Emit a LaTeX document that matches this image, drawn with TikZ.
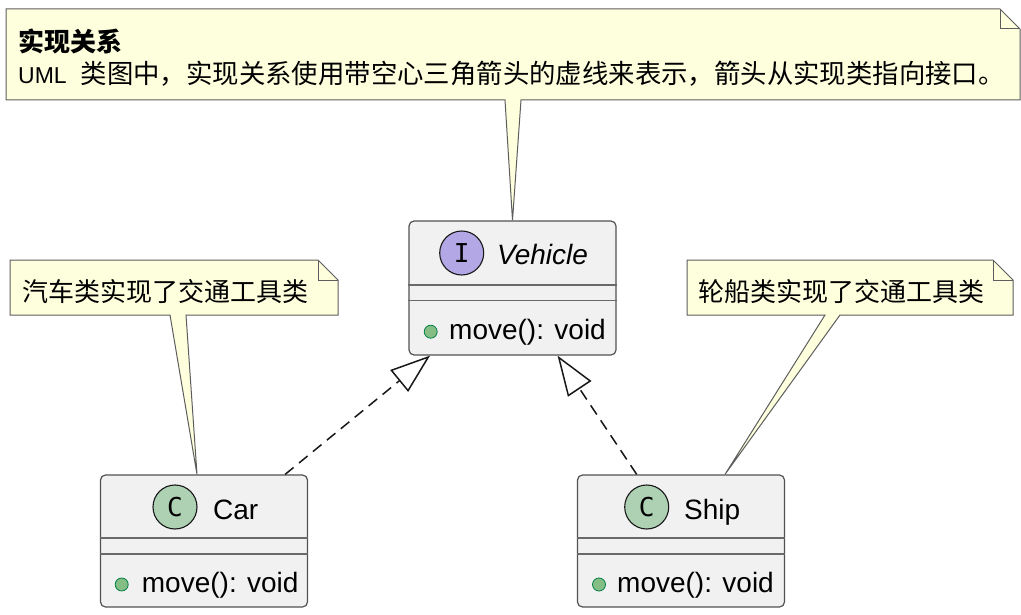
\documentclass[tikz,border=0pt]{standalone}
\usepackage{fontspec}
\setmainfont{Liberation Sans}
\newfontfamily\cjk{Noto Sans CJK SC}
\newfontfamily\monofnt{DejaVu Sans Mono}
\usetikzlibrary{arrows.meta,calc}
\definecolor{notefill}{HTML}{FEFFDD}
\definecolor{classfill}{HTML}{F1F1F1}
\definecolor{ifacefill}{HTML}{B4A7E5}
\definecolor{clsfill}{HTML}{ADD1B2}
\definecolor{dotfill}{HTML}{84BE84}
\definecolor{dotdraw}{HTML}{038048}
\definecolor{edge}{HTML}{181818}
\tikzset{
  classbox/.style={draw=edge!75, fill=classfill, rounded corners=5pt, line width=1.2pt,
    minimum width=207pt, inner sep=0pt},
  notebody/.style={draw=edge!70, fill=notefill, line width=1pt, line join=miter},
  sepline/.style={draw=edge!65, line width=1.2pt},
  spot/.style={circle, draw=edge, line width=1.1pt, minimum size=44pt, inner sep=0pt,
    font=\monofnt\fontsize{26}{26}\selectfont},
  pub/.style={circle, draw=dotdraw, fill=dotfill, minimum size=13pt, inner sep=0pt, line width=0.8pt},
  lbl/.style={inner sep=0pt, anchor=base west, font=\fontsize{28}{32}\selectfont},
  notetext/.style={inner sep=0pt, anchor=west, font=\cjk\fontsize{26}{30}\selectfont},
  realize/.style={draw=edge, line width=1.5pt, dash pattern=on 11pt off 7pt,
    -{Triangle[open, length=40pt, width=28pt]}}
}
\begin{document}
\begin{tikzpicture}[x=1pt,y=-1pt]
\useasboundingbox (0,0) rectangle (1021,615);
% class boxes
\node[classbox, minimum height=134pt] (vehicle) at (512.5,288) {};
\node[classbox, minimum height=132pt] (car) at (204,541) {};
\node[classbox, minimum height=132pt] (ship) at (681,541) {};
% separators
\draw[sepline] (vehicle.west |- 0,285) -- (vehicle.east |- 0,285);
\draw[sepline] (vehicle.west |- 0,300.5) -- (vehicle.east |- 0,300.5);
\draw[sepline] (car.west |- 0,538) -- (car.east |- 0,538);
\draw[sepline] (car.west |- 0,554) -- (car.east |- 0,554);
\draw[sepline] (ship.west |- 0,538) -- (ship.east |- 0,538);
\draw[sepline] (ship.west |- 0,554) -- (ship.east |- 0,554);
% headers
\node[spot, fill=ifacefill] (vspot) at (461.7,253) {I};
\node[spot, fill=clsfill] (cspot) at (175,507) {C};
\node[spot, fill=clsfill] (sspot) at (646.7,507) {C};
\node[lbl] (vname) at (497,265) {\itshape Vehicle};
\node[lbl] (cname) at (213,519) {Car};
\node[lbl] (sname) at (684,519) {Ship};
% methods
\node[pub] (vdot) at (430.7,331.7) {};
\node[pub] (cdot) at (121.7,584.5) {};
\node[pub] (sdot) at (599,584.5) {};
\node[lbl] (vm) at (449,339) {move(): void};
\node[lbl] (cm) at (141.7,592) {move(): void};
\node[lbl] (sm) at (617,592) {move(): void};
% notes
\coordinate (cartip) at ($(car.north)+(-7,0)$);
\coordinate (shiptip) at ($(ship.north)+(44,0)$);
\draw[notebody] (6,9) -- (1000,9) -- (1020,29) -- (1020,100) -- (521,100) -- (vehicle.north) -- (505,100) -- (6,100) -- cycle;
\draw[notebody, fill=none] (1000,9) -- (1000,29) -- (1020,29);
\draw[notebody] (10,260) -- (318,260) -- (338,280) -- (338,315) -- (186,315) -- (cartip) -- (170,315) -- (10,315) -- cycle;
\draw[notebody, fill=none] (318,260) -- (318,280) -- (338,280);
\draw[notebody] (687,260) -- (993,260) -- (1013,280) -- (1013,315) -- (840,315) -- (shiptip) -- (825,315) -- (687,315) -- cycle;
\draw[notebody, fill=none] (993,260) -- (993,280) -- (1013,280);
\node[notetext, font=\cjk\bfseries\fontsize{26}{30}\selectfont] (t1) at (18,41) {实现关系};
\node[notetext, font=\cjk\fontsize{26.4}{30}\selectfont] (t2) at (18,74) {{\rmfamily\fontsize{23}{30}\selectfont UML}\hspace*{14pt}类图中，实现关系使用带空心三角箭头的虚线来表示，箭头从实现类指向接口。};
\node[notetext] (n1) at (22,292) {汽车类实现了交通工具类};
\node[notetext] (n2) at (698,292) {轮船类实现了交通工具类};
% realizations
\draw[realize] (car) -- (vehicle);
\draw[realize] (ship) -- (vehicle);
\end{tikzpicture}
\end{document}
